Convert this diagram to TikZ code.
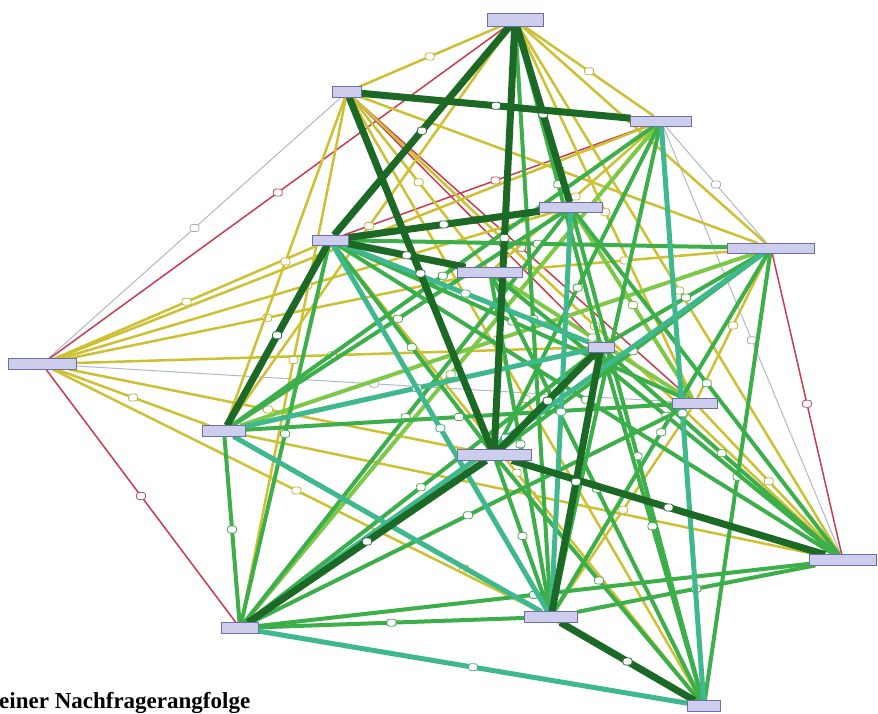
\documentclass[tikz,border=0pt]{standalone}
\usepackage{fontspec}
\newfontfamily\capfont{Liberation Serif}
\begin{document}
\begin{tikzpicture}[x=1pt,y=-1pt,
  nbox/.style={draw=boxline, fill=boxfill, line width=0.8pt, inner sep=0pt},
  edkg/.style={draw=dkg, line width=7pt},
  eteal/.style={draw=tealc, line width=5pt},
  emed/.style={draw=medg, line width=4pt},
  elt/.style={draw=ltg, line width=4pt},
  eyel/.style={draw=yelc, line width=2.5pt},
  ered/.style={draw=redc, line width=1.5pt},
  egry/.style={draw=gryc, line width=1pt},
  emark/.style={draw=#1!80!gray, fill=white, line width=0.8pt, rounded corners=2.5pt, minimum width=9pt, minimum height=7pt, inner sep=0pt}
]
\definecolor{dkg}{RGB}{28,105,38}
\definecolor{tealc}{RGB}{62,184,140}
\definecolor{medg}{RGB}{60,175,75}
\definecolor{ltg}{RGB}{125,200,70}
\definecolor{yelc}{RGB}{205,192,50}
\definecolor{redc}{RGB}{200,60,80}
\definecolor{gryc}{RGB}{175,185,198}
\definecolor{boxfill}{RGB}{205,205,238}
\definecolor{boxline}{RGB}{110,110,165}
\fill[white] (0,0) rectangle (878,713);
\useasboundingbox (0,0) rectangle (878,713);

% nodes
\node[nbox, minimum width=55pt, minimum height=12pt] (A) at (515,20) {};
\node[nbox, minimum width=28pt, minimum height=10pt] (B) at (347,92) {};
\node[nbox, minimum width=60pt, minimum height=9pt] (C) at (661,121) {};
\node[nbox, minimum width=62pt, minimum height=9pt] (D) at (571,207) {};
\node[nbox, minimum width=35pt, minimum height=9pt] (E) at (330,240) {};
\node[nbox, minimum width=86pt, minimum height=9pt] (F) at (771,248) {};
\node[nbox, minimum width=64pt, minimum height=9pt] (G) at (490,272) {};
\node[nbox, minimum width=67pt, minimum height=10pt] (H) at (42,364) {};
\node[nbox, minimum width=25pt, minimum height=9pt] (I) at (601,347) {};
\node[nbox, minimum width=44pt, minimum height=9pt] (J) at (695,403) {};
\node[nbox, minimum width=42pt, minimum height=10pt] (K) at (224,431) {};
\node[nbox, minimum width=73pt, minimum height=10pt] (L) at (494,455) {};
\node[nbox, minimum width=66pt, minimum height=10pt] (M) at (843,560) {};
\node[nbox, minimum width=36pt, minimum height=10pt] (N) at (240,628) {};
\node[nbox, minimum width=52pt, minimum height=10pt] (O) at (551,617) {};
\node[nbox, minimum width=32pt, minimum height=10pt] (P) at (704,706) {};

% grey
\foreach \a/\b in {H/B, H/J, C/F, C/M}
  \draw[egry] (\a) -- (\b) node[pos=0.5, emark=gryc] {};
% red
\foreach \a/\b in {H/A, H/N, F/M, B/J, C/E, B/I}
  \draw[ered] (\a) -- (\b) node[pos=0.5, emark=redc] {};
% yellow
\foreach \a/\b in {A/B, A/C, A/F, A/J, H/K, H/G, H/L, H/I, H/D, H/E, H/C, B/F, B/K, B/N, B/G, B/M, K/M, J/O, A/K, C/G, F/G, B/P, E/P, K/P, J/M, A/M, F/J, H/O}
  \draw[eyel] (\a) -- (\b) node[pos=0.5, emark=yelc] {};
% light green
\foreach \a/\b in {C/N, F/K, G/J, D/J}
  \draw[elt] (\a) -- (\b) node[pos=0.5, emark=ltg] {};
% medium green
\foreach \a/\b in {E/F, E/J, E/M, E/L, C/K, C/L, C/O, F/L, F/P, F/I, F/O, D/N, D/M, D/P, G/M, G/O, I/N, I/M, J/N, J/K, L/O, L/P, M/N, M/O, N/O, N/K, N/E, A/I, A/O, G/P, D/K, I/P}
  \draw[emed] (\a) -- (\b) node[pos=0.5, emark=medg] {};
% teal
\foreach \a/\b in {K/I, K/O, N/P, E/I, C/P, E/O, D/O, F/N}
  \draw[eteal] (\a) -- (\b) node[pos=0.5, emark=tealc] {};
% dark green
\foreach \a/\b in {A/E, A/L, A/D, B/C, B/L, E/D, E/K, E/G, L/N, L/M, I/O, O/P, L/I}
  \draw[edkg] (\a) -- (\b) node[pos=0.5, emark=dkg] {};

% redraw node boxes on top
\foreach \n in {A,B,C,D,E,F,G,H,I,J,K,L,M,N,O,P}
  \draw[boxline, fill=boxfill, line width=0.8pt] (\n.north west) rectangle (\n.south east);

\node[anchor=base west, inner sep=0pt, font=\capfont\bfseries\fontsize{23}{26}\selectfont] (cap) at (-1,708) {einer Nachfragerangfolge};
\end{tikzpicture}
\end{document}
